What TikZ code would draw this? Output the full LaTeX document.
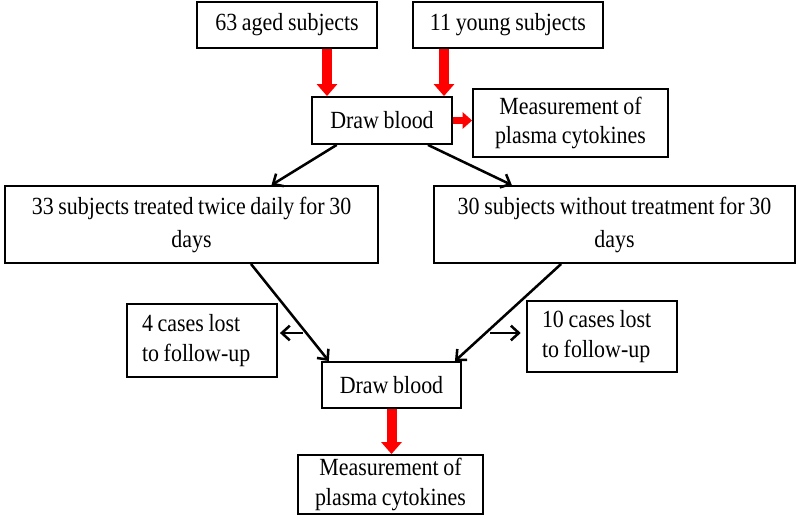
\documentclass[tikz,border=0pt]{standalone}
\usepackage{fontspec}
\setmainfont[FakeStretch=0.89,WordSpace=0.85]{Liberation Serif}
\usetikzlibrary{arrows.meta,calc}
\tikzset{
  box/.style={draw=black, line width=1.4pt, fill=white, inner sep=0pt, align=center,
    font=\fontsize{18.5}{24.75}\selectfont},
  smallbox/.style={box, font=\fontsize{18.5}{22}\selectfont},
  lostbox/.style={smallbox, align=left, text width=90pt, minimum width=112.5pt,
    execute at begin node={\spaceskip=0pt\xspaceskip=0pt\relax}},
  redarr/.style={draw=red, line width=7.5pt, -{Triangle[length=9pt,width=15pt]}, red},
  redarrsmall/.style={draw=red, line width=5.5pt, -{Triangle[length=7pt,width=12pt]}, red},
  blkarr/.style={draw=black, line width=1.9pt, -{Straight Barb[length=6pt,width=11pt]}},
}
\begin{document}
\begin{tikzpicture}[x=0.75pt,y=-0.75pt]
\useasboundingbox (0,0) rectangle (800,525);
\node[box, minimum width=135pt, minimum height=34.5pt] (A) at (287,25) {63 aged subjects};
\node[box, minimum width=142.5pt, minimum height=34.5pt] (B) at (508,25) {11 young subjects};
\node[box, minimum width=105pt, minimum height=35.25pt] (D1) at (382,120.5) {Draw blood};
\node[smallbox, minimum width=146.25pt, minimum height=51pt] (M1) at (570.5,123) {Measurement of\\plasma cytokines};
\node[box, minimum width=279.75pt, minimum height=57.75pt] (L) at (191.5,224.5) {33 subjects treated twice daily for 30\\days};
\node[box, minimum width=270.75pt, minimum height=57.75pt] (R) at (614.5,224.5) {30 subjects without treatment for 30\\days};
\node[lostbox, minimum height=54.75pt] (LL) at (202,340.5) {4 cases lost\\to follow-up};
\node[lostbox, minimum height=53.25pt] (RL) at (602,336.5) {10 cases lost\\to follow-up};
\node[box, minimum width=104.25pt, minimum height=34.5pt] (D2) at (391.5,385) {Draw blood};
\node[smallbox, minimum width=138.75pt, minimum height=44.25pt] (M2) at (390.5,484.5) {Measurement of\\plasma cytokines};

% red arrows
\draw[redarr] ([xshift=30pt]A.south) -- ([xshift=30pt]A.south |- D1.north);
\draw[redarr] ([xshift=-48pt]B.south) -- ([xshift=-48pt]B.south |- D1.north);
\draw[redarrsmall] (D1.east) -- (D1.east -| M1.west);
\draw[redarr] (D2.south) -- (D2.south |- M2.north);

% black arrows
\draw[blkarr] ([xshift=-34pt]D1.south) -- ([xshift=60pt]L.north);
\draw[blkarr] ([xshift=34.5pt]D1.south) -- ([xshift=-77pt]R.north);
\draw[blkarr] ([xshift=44.6pt]L.south) -- ([xshift=-47pt]D2.north);
\draw[blkarr] ([xshift=-40pt]R.south) -- ([xshift=47.6pt]D2.north);

\coordinate (ls) at (303,333);
\coordinate (rs) at (490,333);
\draw[blkarr] (ls) -- ([xshift=1.5pt]ls -| LL.east);
\draw[blkarr] (rs) -- ([xshift=-4pt]rs -| RL.west);
\end{tikzpicture}
\end{document}
